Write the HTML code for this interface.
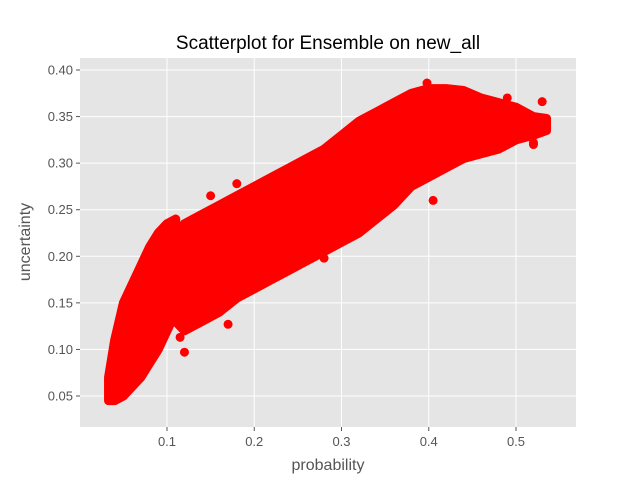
<!DOCTYPE html>
<html><head><meta charset="utf-8"><style>body{margin:0;background:#fff}svg{display:block;font-family:"Liberation Sans","DejaVu Sans",sans-serif}</style></head>
<body>
<svg id="chart" width="640" height="480">
<rect x="0" y="0" width="640" height="480" fill="#fff"/>
<rect x="80" y="58" width="496" height="369" fill="#e5e5e5"/>
<g id="grid"></g><g id="marks"></g><g id="ticks"></g>
<text x="328" y="49" text-anchor="middle" font-size="19" fill="#000">Scatterplot for Ensemble on new_all</text>
<text x="328" y="470" text-anchor="middle" font-size="16" fill="#555">probability</text>
<text transform="translate(30,242) rotate(-90)" text-anchor="middle" font-size="16" fill="#555">uncertainty</text>
</svg>
<script>
const xTicks=[0.1,0.2,0.3,0.4,0.5];
const yTicks=[0.05,0.10,0.15,0.20,0.25,0.30,0.35,0.40];
// left cluster bands
const leftProb=[0.033,0.04,0.05,0.06,0.07,0.08,0.09,0.10,0.11];
const leftLo=[0.045,0.045,0.05,0.06,0.07,0.085,0.10,0.12,0.14];
const leftHi=[0.07,0.11,0.15,0.17,0.19,0.21,0.225,0.235,0.24];
// main cluster bands
const mainProb=[0.11,0.12,0.14,0.16,0.18,0.20,0.22,0.24,0.26,0.28,0.30,0.32,0.34,0.36,0.38,0.40,0.42,0.44,0.46,0.48,0.50,0.52,0.535];
const mainLo=[0.13,0.12,0.13,0.14,0.155,0.165,0.175,0.185,0.195,0.205,0.215,0.225,0.24,0.255,0.275,0.285,0.295,0.305,0.31,0.315,0.325,0.33,0.335];
const mainHi=[0.22,0.235,0.245,0.255,0.265,0.275,0.285,0.295,0.305,0.315,0.33,0.345,0.355,0.365,0.375,0.38,0.38,0.378,0.37,0.365,0.36,0.35,0.348];
// outlier points
const outX=[0.12,0.115,0.405,0.53,0.535,0.52,0.53,0.28,0.17,0.15,0.18,0.398,0.43,0.49,0.52];
const outY=[0.097,0.113,0.26,0.366,0.347,0.322,0.335,0.198,0.127,0.265,0.278,0.386,0.37,0.37,0.32];

const X=v=>167+(v-0.1)*872.5;
const Y=v=>396-(v-0.05)*931.4;
const NS="http://www.w3.org/2000/svg";
function mk(t,p,a){const e=document.createElementNS(NS,t);for(const k in a)e.setAttribute(k,a[k]);p.appendChild(e);return e;}
const grid=document.getElementById('grid'),marks=document.getElementById('marks'),ticks=document.getElementById('ticks');
xTicks.forEach(v=>{
 const l=mk('line',grid,{x1:X(v),x2:X(v),y1:58,y2:427,stroke:'#fff','stroke-width':1});
 
 
 const tk=mk('line',ticks,{x1:X(v),x2:X(v),y1:427,y2:431,stroke:'#555'});
 
 
 const t=mk('text',ticks,{x:X(v),y:446,'text-anchor':'middle','font-size':13,fill:'#555'});
 t.textContent=String(v);
 
 
});
yTicks.forEach(v=>{
 const l=mk('line',grid,{x1:80,x2:576,y1:Y(v),y2:Y(v),stroke:'#fff','stroke-width':1});
 
 
 const tk=mk('line',ticks,{x1:76,x2:80,y1:Y(v),y2:Y(v),stroke:'#555'});
 
 
 const t=mk('text',ticks,{x:73,y:Y(v)+4.5,'text-anchor':'end','font-size':13,fill:'#555'});
 t.textContent=v.toFixed(2);
 
 
});
function band(px,lo,hi,name){
 const pts=[];
 px.forEach((p,i)=>pts.push(X(p)+','+Y(hi[i])));
 for(let i=px.length-1;i>=0;i--)pts.push(X(px[i])+','+Y(lo[i]));
 const pg=mk('polygon',marks,{points:pts.join(' '),fill:'#ff0000',stroke:'#ff0000','stroke-width':9,'stroke-linejoin':'round'});
 
 
}
band(leftProb,leftLo,leftHi,'left-point-cluster');
band(mainProb,mainLo,mainHi,'main-point-cluster');
outX.forEach((v,i)=>{
 const c=mk('circle',marks,{cx:X(v),cy:Y(outY[i]),r:4.5,fill:'#ff0000'});
 
 
});
</script>
</body></html>
